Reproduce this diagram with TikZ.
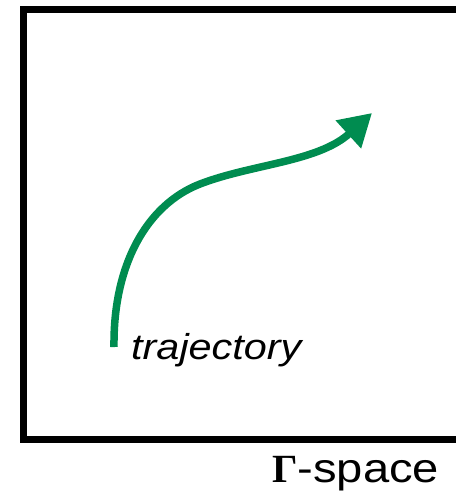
\documentclass[tikz,border=0pt]{standalone}
\usepackage{fontspec}
\setmainfont{Liberation Sans}
\newfontfamily\labelfont[FakeStretch=1.15]{Liberation Sans}
\newfontfamily\gammafont{Liberation Serif}
\usepackage{xcolor}
\definecolor{trajgreen}{RGB}{0, 140, 80}
\usepackage{tikz}
\usetikzlibrary{arrows.meta, positioning}

\begin{document}
\begin{tikzpicture}[x=1pt, y=-1pt,
  spacebox/.style={draw=black, line width=7pt, minimum width=447pt,
                   minimum height=430pt, inner sep=0pt},
  traj/.style={draw=trajgreen, line width=7.5pt,
               -{Triangle[length=32pt, width=36pt]}},
  trajlabel/.style={font=\labelfont\fontsize{36}{40}\selectfont\itshape, inner sep=0pt},
  spacelabel/.style={font=\labelfont\fontsize{41}{46}\selectfont, inner sep=0pt}
]
  \useasboundingbox (0,0) rectangle (456,491);

  % ── Gamma space ──
  \node[spacebox] (gspace) at (246.5,224.5) {};
  \node[spacelabel, anchor=base west] (gname) at (272,482)
       {{\gammafont\bfseries\fontsize{40}{46}\selectfont Γ}-space};

  % ── Trajectory ──
  \coordinate (start) at (114,347);
  \coordinate (bend)  at (200,184);
  \coordinate (tip)   at (372,113);
  \draw[traj] (start) .. controls (113,266) and (146,205) .. (bend)
                      .. controls (252,164) and (318,162) .. (tip);
  \node[trajlabel, anchor=base west] (tlabel) at (131,359) {trajectory};

\end{tikzpicture}
\end{document}
